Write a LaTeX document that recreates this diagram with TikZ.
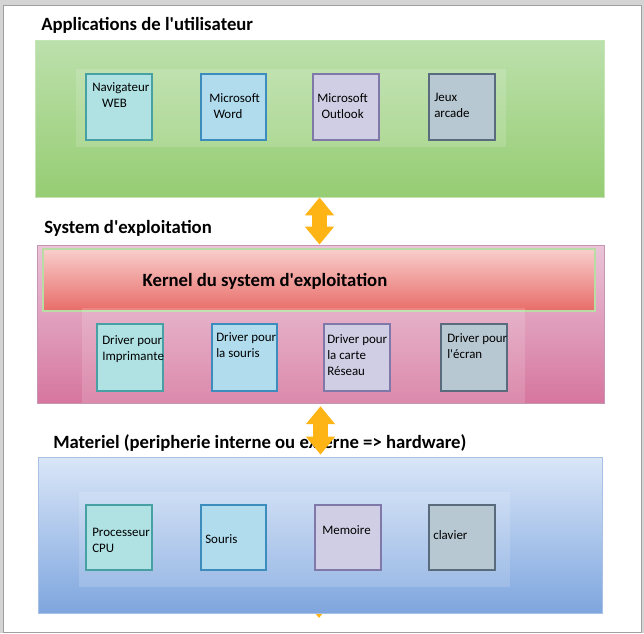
\documentclass[tikz,border=0pt]{standalone}
\usepackage{fontspec}
\newfontfamily\calibri{Carlito}
\usetikzlibrary{fit,arrows.meta}
\definecolor{pagegray}{RGB}{212,212,212}
\definecolor{pageline}{RGB}{160,160,160}
\definecolor{greentop}{RGB}{188,224,172}
\definecolor{greenbot}{RGB}{150,205,115}
\definecolor{greenline}{RGB}{196,228,182}
\definecolor{pinktop}{RGB}{234,196,216}
\definecolor{pinkbot}{RGB}{214,118,158}
\definecolor{pinkline}{RGB}{196,150,180}
\definecolor{kerntop}{RGB}{248,206,204}
\definecolor{kernbot}{RGB}{232,108,104}
\definecolor{kernline}{RGB}{184,220,164}
\definecolor{bluetop}{RGB}{218,230,248}
\definecolor{bluebot}{RGB}{126,166,222}
\definecolor{blueline}{RGB}{168,192,228}
\definecolor{cyanbox}{RGB}{176,226,228}
\definecolor{cyanline}{RGB}{70,160,164}
\definecolor{skybox}{RGB}{176,220,238}
\definecolor{skyline}{RGB}{60,140,190}
\definecolor{lilabox}{RGB}{208,206,228}
\definecolor{lilaline}{RGB}{128,120,168}
\definecolor{slatebox}{RGB}{184,200,210}
\definecolor{slateline}{RGB}{88,108,126}
\definecolor{arrowor}{RGB}{253,180,20}

\begin{document}
\begin{tikzpicture}[x=0.025cm, y=-0.025cm,
  panel/.style={inner sep=0pt, line width=0.6pt},
  band/.style={inner sep=0pt, fill=white, fill opacity=0.15},
  box/.style={inner sep=0pt, line width=0.9pt},
  txt/.style={inner sep=0pt, align=left, anchor=base west, font=\calibri\fontsize{9.2}{11.2}\selectfont},
  title/.style={inner sep=0pt, anchor=base west, font=\calibri\fontsize{13.3}{16}\selectfont\bfseries},
  bigarrow/.style={draw=arrowor, line width=10.7pt, {Triangle[width=20pt,length=12.8pt]}-{Triangle[width=20pt,length=12.8pt]}}]
% page
\fill[pagegray] (0,0) rectangle (644,633);
\draw[pageline, fill=white, line width=0.7pt] (3.5,5) rectangle (641,632);

% applications
\node[title] (tapps) at (41,30) {Applications de l'utilisateur};
\node[panel, fit={(35,40) (604,197)}, top color=greentop, bottom color=greenbot, draw=greenline] (apps) {};
\node[band, fit={(76,69) (506,147)}] (appsband) {};
\node[box, fill=cyanbox, draw=cyanline, fit={(86,74) (152,140)}] (nav) {};
\node[box, fill=skybox, draw=skyline, fit={(201,74) (266,140)}] (word) {};
\node[box, fill=lilabox, draw=lilaline, fit={(313,74) (379,140)}] (outlook) {};
\node[box, fill=slatebox, draw=slateline, fit={(429,74) (495,140)}] (jeux) {};
\node[txt] at (92,107) {Navigateur\\\hspace*{7pt}WEB};
\node[txt] at (209,118) {Microsoft\\\hspace*{3pt}Word};
\node[txt] at (317,118) {Microsoft\\\hspace*{3pt}Outlook};
\node[txt] at (434,117) {Jeux\\arcade};

% systeme
\node[title] (tos) at (44,233) {System d'exploitation};
\node[panel, fit={(37,245) (604,403)}, top color=pinktop, bottom color=pinkbot, draw=pinkline] (os) {};
\node[panel, fit={(43,249) (595,311)}, top color=kerntop, bottom color=kernbot, draw=kernline, line width=1.2pt] (kernel) {};
\node[title, anchor=base] at (265,286) {Kernel du system d'exploitation};
\node[band, fit={(82,308) (525,403)}] (osband) {};
\node[box, fill=cyanbox, draw=cyanline, fit={(97,324) (163,391)}] (drvprint) {};
\node[box, fill=skybox, draw=skyline, fit={(212,324) (277,391)}] (drvmouse) {};
\node[box, fill=lilabox, draw=lilaline, fit={(324,324) (390,391)}] (drvnet) {};
\node[box, fill=slatebox, draw=slateline, fit={(441,324) (507,391)}] (drvscreen) {};
\node[txt] at (102,360) {Driver pour\\Imprimante};
\node[txt] at (216,357) {Driver pour\\la souris};
\node[txt] at (327,375) {Driver pour\\la carte\\Réseau};
\node[txt] at (447,358) {Driver pour\\l'écran};

% materiel
\coordinate (hwtop) at (319,560);
\coordinate (hwtip) at (319,618);
\draw[bigarrow] (hwtop) -- (hwtip);
\node[title] (thw) at (53,448) {Materiel (peripherie interne ou externe => hardware)};
\node[panel, fit={(38,457) (602,613)}, top color=bluetop, bottom color=bluebot, draw=blueline] (hw) {};
\node[band, fit={(79,492) (510,587)}] (hwband) {};
\node[box, fill=cyanbox, draw=cyanline, fit={(86,505) (152,570)}] (cpu) {};
\node[box, fill=skybox, draw=skyline, fit={(201,505) (266,570)}] (mouse) {};
\node[box, fill=lilabox, draw=lilaline, fit={(315,505) (381,570)}] (mem) {};
\node[box, fill=slatebox, draw=slateline, fit={(429,505) (495,570)}] (keyb) {};
\node[txt] at (92,552) {Processeur\\CPU};
\node[txt] at (205,543) {Souris};
\node[txt] at (322,534) {Memoire};
\node[txt] at (433,539) {clavier};

% fleches
\draw[bigarrow] (apps.south) -- (apps.south |- os.north);
\draw[bigarrow, shorten <=2pt, shorten >=1.4pt] (os.south) -- (os.south |- hw.north);
\end{tikzpicture}
\end{document}
